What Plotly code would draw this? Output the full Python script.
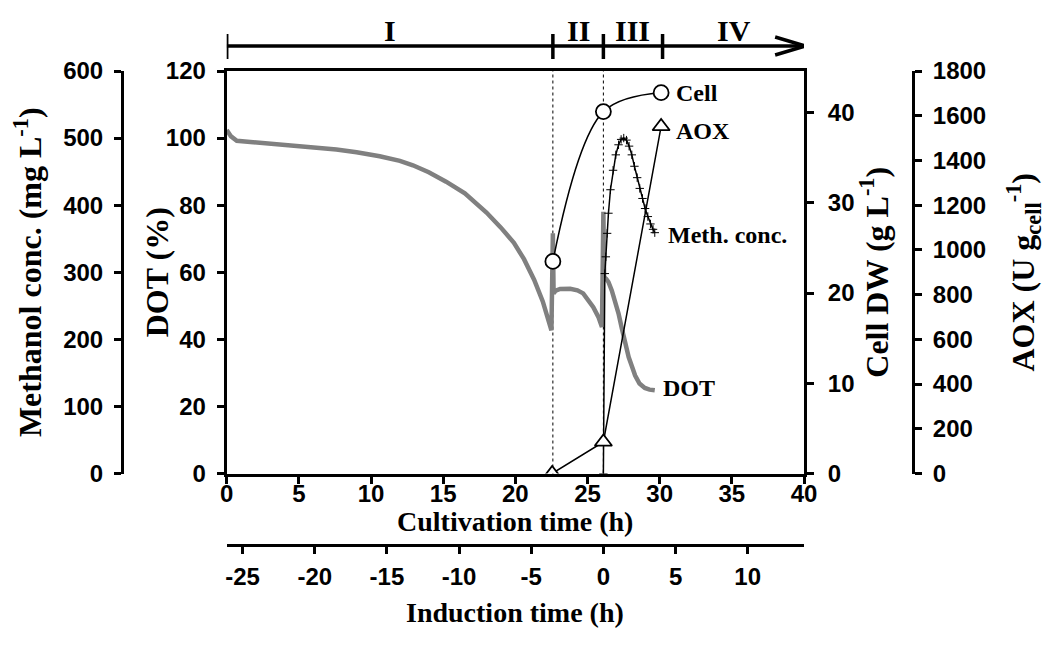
import plotly.graph_objects as go

# ---------------- data ----------------
dot_time = [0.0, 0.3, 0.7, 1.5, 3.0, 5.0, 7.6, 9.0, 10.6, 12.0, 12.9, 14.0, 15.2, 16.5,
            17.5, 18.0, 19.0, 19.9, 20.6, 21.3, 21.9, 22.3, 22.5, 22.6, 22.65, 22.8, 23.1,
            23.8, 24.3, 24.7, 25.0, 25.4, 25.75, 26.0, 26.1, 26.15, 26.3, 26.45, 26.68,
            26.9, 27.15, 27.38, 27.6, 27.85, 28.1, 28.3, 28.6, 28.97, 29.3, 29.66]
dot_values = [102.4, 100.5, 99.2, 98.9, 98.4, 97.6, 96.6, 95.8, 94.6, 93.2, 91.9, 89.8, 87.0, 83.5,
              79.7, 77.8, 73.3, 68.8, 63.9, 57.8, 51.3, 45.8, 42.7, 71.6, 53.7, 54.5, 55.0,
              55.1, 54.6, 53.7, 52.1, 49.6, 46.7, 43.7, 78.0, 58.6, 58.0, 57.1, 54.6,
              51.6, 47.7, 43.2, 38.7, 34.7, 31.7, 29.2, 26.8, 25.5, 25.0, 24.8]

meth_time = [26.1, 26.2, 26.27, 26.36, 26.45, 26.59, 26.77, 26.96, 27.15, 27.33, 27.51, 27.7,
             27.88, 28.07, 28.25, 28.44, 28.62, 28.81, 28.99, 29.18, 29.36, 29.54, 29.66]
meth_values = [0, 298, 323, 358, 388, 423, 452, 475, 490, 498, 500, 497,
               488, 475, 458, 441, 425, 410, 395, 383, 372, 364, 359]

cell_time = [22.6, 26.1, 30.1]
cell_values = [23.5, 40.1, 42.2]

aox_time = [22.55, 26.1, 30.1]
aox_values = [0, 141, 1552]

phase_bounds = [0.0, 22.6, 26.1, 30.2, 40.1]
phase_labels = ["I", "II", "III", "IV"]
induction_offset = 26.1

cult_ticks = [0, 5, 10, 15, 20, 25, 30, 35, 40]
ind_ticks = [-25, -20, -15, -10, -5, 0, 5, 10]
dot_ticks = [0, 20, 40, 60, 80, 100, 120]
meth_ticks = [0, 100, 200, 300, 400, 500, 600]
cell_ticks = [0, 10, 20, 30, 40]
aox_ticks = [0, 200, 400, 600, 800, 1000, 1200, 1400, 1600, 1800]

# ---------------- geometry / style ----------------
W, H = 1047, 659
PX_L, PX_R = 122.0, 913.0
PX_T, PX_B = 71.0, 545.0
PLOT_L, PLOT_R, PLOT_B = 226.7, 804.0, 473.5
pw = PX_R - PX_L
ph = PX_B - PX_T


def fx(px):
    return (px - PX_L) / pw


def fy(py):
    return (PX_B - py) / ph


x_dom = [fx(PLOT_L), fx(PLOT_R)]
y_dom = [fy(PLOT_B), 1.0]

SANS = "Liberation Sans, Arial, sans-serif"
SERIF = "Liberation Serif, Times New Roman, serif"
tickfont = dict(family=SANS, size=24, color="black", weight="bold")
vtitlefont = dict(family=SERIF, size=32, color="black", weight="bold")
htitlefont = dict(family=SERIF, size=28, color="black", weight="bold")
phasefont = dict(family=SERIF, size=30, color="black", weight="bold")
labelfont = dict(family=SERIF, size=24, color="black", weight="bold")

common = dict(showline=True, linecolor="black", linewidth=3, ticks="outside", ticklen=7,
              tickwidth=3, tickcolor="black", showgrid=False, zeroline=False,
              tickfont=tickfont, automargin=False)

fig = go.Figure()

fig.add_trace(go.Scatter(x=dot_time, y=dot_values, mode="lines", name="DOT",
                         line=dict(color="#808080", width=4.5), xaxis="x", yaxis="y",
                         showlegend=False))
fig.add_trace(go.Scatter(x=[t - induction_offset for t in dot_time], y=dot_values, mode="lines",
                         line=dict(width=0), opacity=0, xaxis="x2", yaxis="y",
                         showlegend=False, hoverinfo="skip"))
fig.add_trace(go.Scatter(x=meth_time, y=meth_values, mode="lines+markers", name="Meth. conc.",
                         line=dict(color="black", width=1.5),
                         marker=dict(symbol="cross-thin", size=6, line=dict(width=1, color="black")),
                         xaxis="x", yaxis="y2", showlegend=False))
fig.add_trace(go.Scatter(x=cell_time, y=cell_values, mode="lines+markers", name="Cell",
                         line=dict(color="black", width=1.5, shape="spline", smoothing=1.0),
                         marker=dict(symbol="circle", size=15, color="white",
                                     line=dict(width=1.8, color="black")),
                         xaxis="x", yaxis="y3", showlegend=False))
fig.add_trace(go.Scatter(x=aox_time, y=aox_values, mode="lines+markers", name="AOX",
                         line=dict(color="black", width=1.5),
                         marker=dict(symbol="triangle-up", size=15, color="white",
                                     line=dict(width=1.8, color="black")),
                         xaxis="x", yaxis="y4", showlegend=False))

fig.update_layout(
    width=W, height=H,
    margin=dict(l=PX_L, r=W - PX_R, t=PX_T, b=H - PX_B, pad=0),
    paper_bgcolor="white", plot_bgcolor="white",
    showlegend=False,
    xaxis=dict(common, domain=x_dom, range=[0, 40], tickvals=cult_ticks, anchor="y",
               mirror=True, ticklabelstandoff=-10),
    xaxis2=dict(common, domain=x_dom, overlaying="x", anchor="free", position=0, side="bottom",
                range=[0 - induction_offset, 40 - induction_offset], tickvals=ind_ticks,
                ticktext=[str(v) for v in ind_ticks], ticklabelstandoff=2),
    yaxis=dict(common, domain=y_dom, range=[0, 120], tickvals=dot_ticks, anchor="x", side="left",
               ticklabelstandoff=6),
    yaxis2=dict(common, domain=y_dom, range=[0, 600], tickvals=meth_ticks, overlaying="y",
                anchor="free", position=0, side="left", ticklabelstandoff=6,
                title=dict(text="Methanol conc. (mg L<sup>-1</sup>)", font=vtitlefont, standoff=10)),
    yaxis3=dict(common, domain=y_dom, range=[0, 44.6], tickvals=cell_ticks, overlaying="y",
                anchor="x", side="right", ticklabelstandoff=9,
                title=dict(text="Cell DW (g L<sup>-1</sup>)", font=vtitlefont, standoff=11)),
    yaxis4=dict(common, domain=y_dom, range=[0, 1800], tickvals=aox_ticks, overlaying="y",
                anchor="free", position=1, side="right", ticklabelstandoff=6,
                title=dict(text="AOX (U g<sub>cell</sub><sup>-1</sup>)", font=vtitlefont, standoff=26)),
)

shapes = []
# dotted phase boundaries (II and III starts)
for b in phase_bounds[1:3]:
    shapes.append(dict(type="line", xref="x", yref="y", x0=b, x1=b, y0=0, y1=120,
                       line=dict(color="black", width=1, dash="dot"), layer="below"))
# phase arrow
ya = fy(46)
shapes.append(dict(type="line", xref="x", yref="paper", x0=phase_bounds[0], x1=phase_bounds[-1],
                   y0=ya, y1=ya, line=dict(color="black", width=3.5)))
for b in phase_bounds[:-1]:
    shapes.append(dict(type="line", xref="x", yref="paper", x0=b, x1=b, y0=fy(34), y1=fy(59),
                       line=dict(color="black", width=3.5)))
tip = phase_bounds[-1]
shapes.append(dict(type="path", xref="x", yref="paper",
                   path=f"M {tip - 2.1},{fy(37)} L {tip},{ya} L {tip - 2.1},{fy(55)}",
                   line=dict(color="black", width=3.5)))
fig.update_layout(shapes=shapes)

ann = []
# axis titles placed as annotations for precise positioning
xc = (x_dom[0] + x_dom[1]) / 2
ann.append(dict(x=xc, y=fy(521), xref="paper", yref="paper",
                text="Cultivation time (h)", showarrow=False, font=htitlefont,
                xanchor="center", yanchor="middle"))
ann.append(dict(x=xc, y=fy(612), xref="paper", yref="paper",
                text="Induction time (h)", showarrow=False, font=htitlefont,
                xanchor="center", yanchor="middle"))
ann.append(dict(x=fx(157), y=(y_dom[0] + y_dom[1]) / 2, xref="paper", yref="paper",
                text="DOT (%)", showarrow=False, font=vtitlefont, textangle=-90,
                xanchor="center", yanchor="middle"))
for i, lab in enumerate(phase_labels):
    xm = (phase_bounds[i] + phase_bounds[i + 1]) / 2
    ann.append(dict(x=xm, y=fy(31), xref="x", yref="paper", text=lab, showarrow=False,
                    font=phasefont, xanchor="center", yanchor="middle"))
ann.append(dict(x=cell_time[-1], y=cell_values[-1], xref="x", yref="y3", text="Cell",
                showarrow=False, font=labelfont, xanchor="left", yanchor="middle", xshift=13))
ann.append(dict(x=aox_time[-1], y=aox_values[-1], xref="x", yref="y4", text="AOX",
                showarrow=False, font=labelfont, xanchor="left", yanchor="middle", xshift=13,
                yshift=-5))
ann.append(dict(x=meth_time[-1], y=meth_values[-1], xref="x", yref="y2", text="Meth. conc.",
                showarrow=False, font=labelfont, xanchor="left", yanchor="middle", xshift=11,
                yshift=-2))
ann.append(dict(x=dot_time[-1], y=dot_values[-1], xref="x", yref="y", text="DOT",
                showarrow=False, font=labelfont, xanchor="left", yanchor="middle", xshift=6,
                yshift=2))
fig.update_layout(annotations=ann)

fig.write_html("out.html")
